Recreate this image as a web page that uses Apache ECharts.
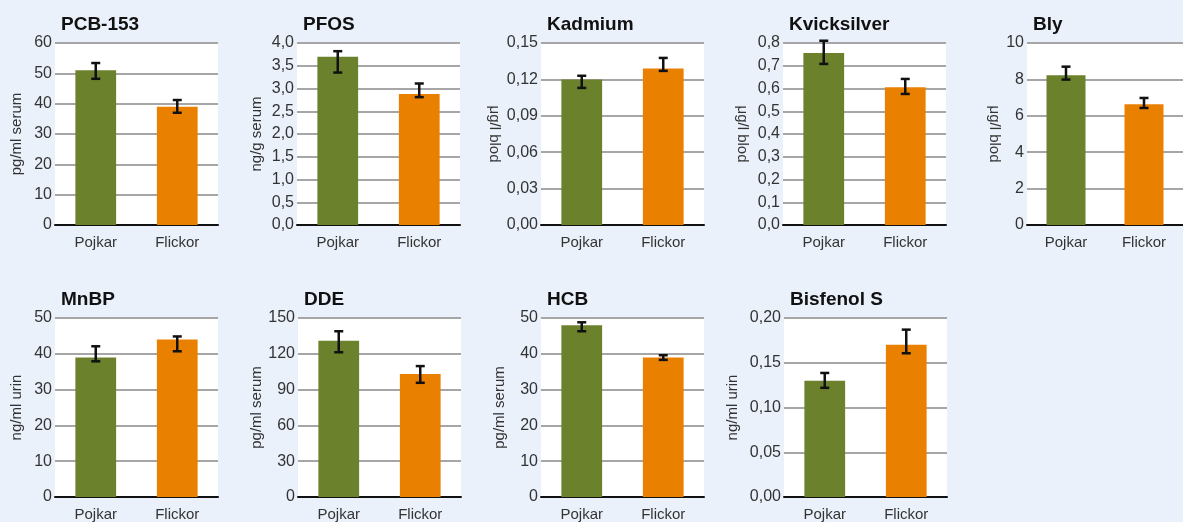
<!DOCTYPE html>
<html>
<head>
<meta charset="utf-8">
<script src="https://cdn.jsdelivr.net/npm/echarts@6/dist/echarts.min.js"></script>
<style>
  html, body { margin: 0; padding: 0; background: #eaf1fa; }
  #myChart { width: 1183px; height: 522px; }
</style>
</head>
<body>
<div id="myChart"></div>
<script>
  // data
  var categories = ['Pojkar', 'Flickor']
  var titles = ['PCB-153', 'PFOS', 'Kadmium', 'Kvicksilver', 'Bly', 'MnBP', 'DDE', 'HCB', 'Bisfenol S']
  var units = ['pg/ml serum', 'ng/g serum', 'μg/l blod', 'μg/l blod', 'μg/l blod', 'ng/ml urin', 'pg/ml serum', 'pg/ml serum', 'ng/ml urin']
  var pojkarValues = [51, 3.7, 0.12, 0.756, 8.23, 39, 131, 48, 0.13]
  var pojkarLow = [48.2, 3.35, 0.113, 0.708, 7.99, 37.9, 121.3, 46.3, 0.122]
  var pojkarHigh = [53.4, 3.82, 0.123, 0.81, 8.7, 42.1, 138.9, 48.8, 0.1386]
  var flickorValues = [39, 2.88, 0.129, 0.606, 6.64, 44, 103, 39, 0.17]
  var flickorLow = [37, 2.81, 0.127, 0.576, 6.43, 40.7, 95.7, 38.3, 0.1606]
  var flickorHigh = [41.2, 3.11, 0.1377, 0.642, 6.98, 44.85, 109.7, 39.6, 0.187]
  var axisMax = [60, 4, 0.15, 0.8, 10, 50, 150, 50, 0.2]
  var axisStep = [10, 0.5, 0.03, 0.1, 2, 10, 30, 10, 0.05]
  var tickDecimals = [0, 1, 2, 1, 0, 0, 0, 0, 2]

  // layout of the small panels
  var panelLeft = [55, 297, 541, 783, 1027, 55, 298, 541, 784]
  var panelTop = [43, 43, 43, 43, 43, 318, 318, 318, 318]
  var nameDist = [31, 33, 39, 33, 25, 31, 34, 34, 44]
  var nameDown = [false, false, true, true, true, false, false, false, false]

  var font = 'Liberation Sans'
  var green = '#6b812c'
  var orange = '#ea8000'

  var option = {
    backgroundColor: '#eaf1fa',
    animation: false,
    textStyle: { fontFamily: font },
    title: [],
    grid: [],
    xAxis: [],
    yAxis: [],
    series: []
  }

  function renderError (params, api) {
    var x = api.value(0)
    var lo = api.coord([x, api.value(1)])
    var hi = api.coord([x, api.value(2)])
    var cap = 4.5
    var style = { stroke: '#111', lineWidth: 2.5 }
    return {
      type: 'group',
      children: [
        { type: 'line', shape: { x1: lo[0], y1: lo[1], x2: hi[0], y2: hi[1] }, style: style },
        { type: 'line', shape: { x1: lo[0] - cap, y1: lo[1], x2: lo[0] + cap, y2: lo[1] }, style: style },
        { type: 'line', shape: { x1: hi[0] - cap, y1: hi[1], x2: hi[0] + cap, y2: hi[1] }, style: style }
      ]
    }
  }

  for (var i = 0; i < titles.length; i++) {
    (function (i) {
      option.title.push({
        text: titles[i],
        left: panelLeft[i] + 1,
        top: panelTop[i] - 33,
        textStyle: { fontFamily: font, fontSize: 19, fontWeight: 'bold', color: '#111' }
      })
      option.grid.push({
        left: panelLeft[i],
        top: panelTop[i],
        width: 163,
        height: 182,
        show: true,
        backgroundColor: '#ffffff',
        borderWidth: 0
      })
      option.xAxis.push({
        type: 'category',
        gridIndex: i,
        data: categories,
        axisLine: { lineStyle: { color: '#111', width: 2 } },
        axisTick: { show: false },
        axisLabel: { margin: 10, fontSize: 15, color: '#333', fontFamily: font }
      })
      option.yAxis.push({
        type: 'value',
        gridIndex: i,
        min: 0,
        max: axisMax[i],
        interval: axisStep[i],
        name: units[i],
        nameLocation: 'middle',
        nameRotate: nameDown[i] ? -90 : 90,
        nameGap: nameDist[i],
        nameTextStyle: { fontSize: 15, color: '#333', fontFamily: font },
        axisLine: { show: false },
        axisTick: { show: false },
        splitLine: { lineStyle: { color: '#a6a6a6', width: 2 } },
        axisLabel: {
          margin: 3,
          fontSize: 16,
          color: '#333',
          fontFamily: font,
          formatter: function (v) {
            return v.toFixed(tickDecimals[i]).replace('.', ',')
          }
        }
      })
      option.series.push({
        type: 'bar',
        xAxisIndex: i,
        yAxisIndex: i,
        barWidth: '50%',
        data: [
          { value: pojkarValues[i], itemStyle: { color: green } },
          { value: flickorValues[i], itemStyle: { color: orange } }
        ]
      })
      option.series.push({
        type: 'custom',
        xAxisIndex: i,
        yAxisIndex: i,
        renderItem: renderError,
        encode: { x: 0, y: [1, 2] },
        z: 5,
        data: [
          [0, pojkarLow[i], pojkarHigh[i]],
          [1, flickorLow[i], flickorHigh[i]]
        ]
      })
    })(i)
  }

  var myChart = echarts.init(document.getElementById('myChart'))
  myChart.setOption(option)
</script>
</body>
</html>
